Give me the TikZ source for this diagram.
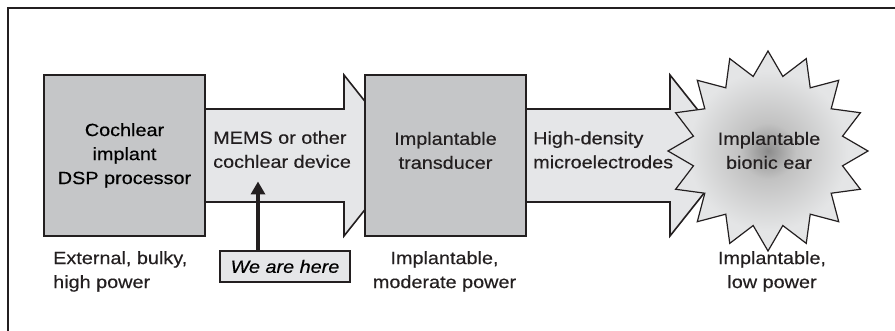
\documentclass[tikz,border=0pt]{standalone}
\usepackage{fontspec}
\setmainfont[FakeStretch=1.12,FakeBold=0.35]{Liberation Sans}
\usetikzlibrary{arrows.meta}
\definecolor{boxgray}{HTML}{C5C6C8}
\definecolor{arrgray}{HTML}{E5E6E8}
\definecolor{ink}{HTML}{231F20}
\definecolor{burstA}{HTML}{8C8C8C}
\definecolor{burstB}{HTML}{C2C2C2}
\definecolor{burstC}{HTML}{E4E5E6}
\pgfdeclareradialshading{burst}{\pgfpoint{0bp}{0bp}}{color(0bp)=(burstA); color(7bp)=(burstB); color(20bp)=(burstC); color(50bp)=(burstC)}
\tikzset{
  procbox/.style={draw=ink, fill=boxgray, line width=1.8pt, minimum width=161pt, minimum height=161pt, inner sep=0pt},
  blockarrow/.style={draw=ink, fill=arrgray, line width=1.6pt, line join=miter},
  herebox/.style={draw=ink, fill=arrgray, line width=1.6pt, minimum width=130pt, minimum height=31pt, inner sep=0pt, font=\fontsize{17.7}{24}\selectfont\itshape},
  txt/.style={inner sep=0pt, text=ink},
  burstshape/.style={draw=ink, line width=1.2pt, shade, shading=burst, line join=miter},
  pointer/.style={draw=ink, line width=4.5pt, -{Triangle[length=13pt,width=14pt]}}
}
\begin{document}
\begin{tikzpicture}[x=1pt,y=-1pt, font=\fontsize{17.7}{24}\selectfont]
\useasboundingbox (0,0) rectangle (895,331);
\clip (0,0) rectangle (895,331);
% frame
\draw[ink, line width=1.5pt] (8,340) -- (8,8) -- (905,8);
% block arrows
\draw[blockarrow] (205,109) -- (344,109) -- (344,75) -- (408,155.5) -- (344,236) -- (344,202) -- (205,202) -- cycle;
\draw[blockarrow] (526,109) -- (670,109) -- (670,75) -- (734,155.5) -- (670,236) -- (670,202) -- (526,202) -- cycle;
% boxes
\node[procbox, align=center] (dsp) at (124.5,155.5) {Cochlear\\implant\\DSP processor};
\node[procbox] (trans) at (445.5,155.5) {};
% burst
\begin{scope}[shift={(768,151)}]
\path[burstshape] (90:100) \foreach \i [evaluate=\i as \r using {mod(\i,2)==0 ? 100 : 76}] in {1,...,31} { -- ({90+\i*11.25}:\r) } -- cycle;
\end{scope}
% labels
\node[txt, align=left, anchor=west] (memslbl) at (213,149.5) {MEMS or other\\cochlear device};
\node[txt, align=center] (translbl) at (445.5,150.5) {Implantable\\transducer};
\node[txt, align=left, anchor=west] (hdlbl) at (533,150) {High-density\\microelectrodes};
\node[txt, align=center] (earlbl) at (769,150.5) {Implantable\\bionic ear};
\node[txt, align=left, anchor=west] (extlbl) at (53,271.5) {External, bulky,\\high power};
\node[txt, align=center] (modlbl) at (444.5,271.5) {Implantable,\\moderate power};
\node[txt, align=center] (lowlbl) at (772,271.5) {Implantable,\\low power};
% we are here
\node[herebox] (here) at (285,266.5) {We are here};
\coordinate (herehead) at (258,181.5);
\draw[pointer] (here.north -| herehead) -- (herehead);
\end{tikzpicture}
\end{document}
